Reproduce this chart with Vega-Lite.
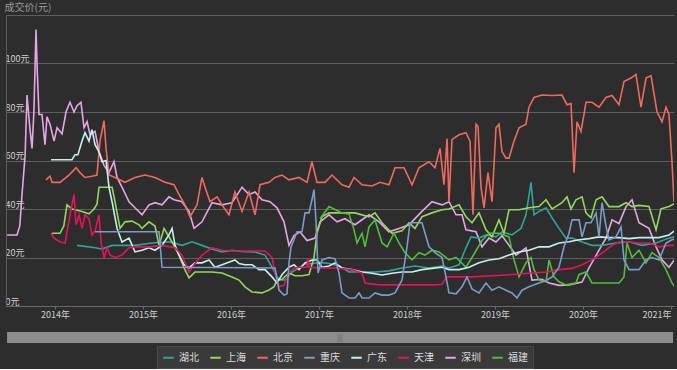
{
"$schema":"https://vega.github.io/schema/vega-lite/v6.json",
"background":"#2d2d2d",
"padding":{"left":4,"top":2,"right":5,"bottom":0},
"config":{"font":"Noto Sans CJK SC","view":{"stroke":null},"concat":{"spacing":13}},
"datasets":{
"lines":[
{"s":"深圳","t":2013.455,"v":29.3},{"s":"深圳","t":2013.568,"v":29.3},{"s":"深圳","t":2013.6,"v":33},{"s":"深圳","t":2013.625,"v":46},{"s":"深圳","t":2013.66,"v":62},{"s":"深圳","t":2013.682,"v":87},{"s":"深圳","t":2013.71,"v":75},{"s":"深圳","t":2013.739,"v":65},{"s":"深圳","t":2013.76,"v":80},{"s":"深圳","t":2013.784,"v":114},{"s":"深圳","t":2013.8,"v":95},{"s":"深圳","t":2013.818,"v":79},{"s":"深圳","t":2013.852,"v":79},{"s":"深圳","t":2013.886,"v":66.5},{"s":"深圳","t":2013.909,"v":78},{"s":"深圳","t":2013.943,"v":75},{"s":"深圳","t":2013.989,"v":68},{"s":"深圳","t":2014.023,"v":73.5},{"s":"深圳","t":2014.08,"v":71},{"s":"深圳","t":2014.125,"v":80},{"s":"深圳","t":2014.17,"v":84},{"s":"深圳","t":2014.216,"v":80},{"s":"深圳","t":2014.25,"v":82.6},{"s":"深圳","t":2014.295,"v":84},{"s":"深圳","t":2014.33,"v":73.5},{"s":"深圳","t":2014.364,"v":76},{"s":"深圳","t":2014.398,"v":70.6},{"s":"深圳","t":2014.455,"v":72},{"s":"深圳","t":2014.5,"v":63.6},{"s":"深圳","t":2014.557,"v":58},{"s":"深圳","t":2014.614,"v":55},{"s":"深圳","t":2014.67,"v":59.5},{"s":"深圳","t":2014.705,"v":53},{"s":"深圳","t":2014.761,"v":49},{"s":"深圳","t":2014.841,"v":43},{"s":"深圳","t":2014.909,"v":40.5},{"s":"深圳","t":2014.989,"v":37.6},{"s":"深圳","t":2015.068,"v":41.7},{"s":"深圳","t":2015.136,"v":42.6},{"s":"深圳","t":2015.216,"v":41.7},{"s":"深圳","t":2015.295,"v":45},{"s":"深圳","t":2015.352,"v":43.8},{"s":"深圳","t":2015.443,"v":43},{"s":"深圳","t":2015.523,"v":39},{"s":"深圳","t":2015.58,"v":32},{"s":"深圳","t":2015.67,"v":34.7},{"s":"深圳","t":2015.784,"v":42.6},{"s":"深圳","t":2015.898,"v":41.7},{"s":"深圳","t":2016.011,"v":42.6},{"s":"深圳","t":2016.125,"v":49},{"s":"深圳","t":2016.205,"v":46},{"s":"深圳","t":2016.273,"v":47},{"s":"深圳","t":2016.352,"v":43.8},{"s":"深圳","t":2016.443,"v":43},{"s":"深圳","t":2016.523,"v":40.5},{"s":"深圳","t":2016.602,"v":34.7},{"s":"深圳","t":2016.659,"v":25},{"s":"深圳","t":2016.716,"v":29},{"s":"深圳","t":2016.784,"v":30.6},{"s":"深圳","t":2016.864,"v":27},{"s":"深圳","t":2016.955,"v":28},{"s":"深圳","t":2017.011,"v":34.7},{"s":"深圳","t":2017.114,"v":37.6},{"s":"深圳","t":2017.205,"v":34.7},{"s":"深圳","t":2017.295,"v":36},{"s":"深圳","t":2017.409,"v":33.5},{"s":"深圳","t":2017.568,"v":37.6},{"s":"深圳","t":2017.682,"v":34.7},{"s":"深圳","t":2017.795,"v":30.6},{"s":"深圳","t":2017.909,"v":32},{"s":"深圳","t":2018.023,"v":33.5},{"s":"深圳","t":2018.17,"v":39},{"s":"深圳","t":2018.284,"v":43},{"s":"深圳","t":2018.398,"v":41.7},{"s":"深圳","t":2018.477,"v":43},{"s":"深圳","t":2018.557,"v":37.6},{"s":"深圳","t":2018.625,"v":37.6},{"s":"深圳","t":2018.67,"v":31.4},{"s":"深圳","t":2018.784,"v":30.6},{"s":"深圳","t":2018.852,"v":24.4},{"s":"深圳","t":2018.932,"v":28},{"s":"深圳","t":2019.011,"v":26.4},{"s":"深圳","t":2019.08,"v":29},{"s":"深圳","t":2019.159,"v":25},{"s":"深圳","t":2019.239,"v":21},{"s":"深圳","t":2019.352,"v":24},{"s":"深圳","t":2019.42,"v":10.7},{"s":"深圳","t":2019.534,"v":11},{"s":"深圳","t":2019.614,"v":9.5},{"s":"深圳","t":2019.727,"v":8.5},{"s":"深圳","t":2019.841,"v":8.7},{"s":"深圳","t":2019.989,"v":9.9},{"s":"深圳","t":2020.068,"v":15.7},{"s":"深圳","t":2020.182,"v":23},{"s":"深圳","t":2020.261,"v":28},{"s":"深圳","t":2020.33,"v":35.5},{"s":"深圳","t":2020.409,"v":34},{"s":"深圳","t":2020.489,"v":41},{"s":"深圳","t":2020.557,"v":43.8},{"s":"深圳","t":2020.636,"v":34.3},{"s":"深圳","t":2020.75,"v":32},{"s":"深圳","t":2020.83,"v":24.4},{"s":"深圳","t":2020.898,"v":19},{"s":"深圳","t":2020.977,"v":16},{"s":"深圳","t":2021.057,"v":20},
{"s":"北京","t":2013.898,"v":52},{"s":"北京","t":2013.943,"v":53.5},{"s":"北京","t":2013.966,"v":51},{"s":"北京","t":2014.057,"v":51},{"s":"北京","t":2014.159,"v":54},{"s":"北京","t":2014.239,"v":57},{"s":"北京","t":2014.284,"v":55},{"s":"北京","t":2014.341,"v":53},{"s":"北京","t":2014.42,"v":53.5},{"s":"北京","t":2014.477,"v":54},{"s":"北京","t":2014.511,"v":68},{"s":"北京","t":2014.557,"v":76.4},{"s":"北京","t":2014.58,"v":65},{"s":"北京","t":2014.614,"v":54},{"s":"北京","t":2014.682,"v":53},{"s":"北京","t":2014.795,"v":51},{"s":"北京","t":2014.909,"v":53},{"s":"北京","t":2015.023,"v":54},{"s":"北京","t":2015.136,"v":53},{"s":"北京","t":2015.25,"v":51},{"s":"北京","t":2015.352,"v":50},{"s":"北京","t":2015.409,"v":46},{"s":"北京","t":2015.477,"v":41.7},{"s":"北京","t":2015.534,"v":36.8},{"s":"北京","t":2015.614,"v":41.7},{"s":"北京","t":2015.67,"v":53},{"s":"北京","t":2015.705,"v":49},{"s":"北京","t":2015.761,"v":43},{"s":"北京","t":2015.841,"v":45},{"s":"北京","t":2015.92,"v":40.5},{"s":"北京","t":2015.977,"v":37.6},{"s":"北京","t":2016.045,"v":47},{"s":"北京","t":2016.125,"v":39},{"s":"北京","t":2016.205,"v":47},{"s":"北京","t":2016.273,"v":37.6},{"s":"北京","t":2016.33,"v":50},{"s":"北京","t":2016.432,"v":51},{"s":"北京","t":2016.5,"v":53},{"s":"北京","t":2016.58,"v":54},{"s":"北京","t":2016.659,"v":52},{"s":"北京","t":2016.773,"v":53},{"s":"北京","t":2016.864,"v":51},{"s":"北京","t":2016.92,"v":59.5},{"s":"北京","t":2016.977,"v":51},{"s":"北京","t":2017.068,"v":51},{"s":"北京","t":2017.148,"v":54},{"s":"北京","t":2017.261,"v":50},{"s":"北京","t":2017.341,"v":49},{"s":"北京","t":2017.398,"v":53},{"s":"北京","t":2017.489,"v":50},{"s":"北京","t":2017.602,"v":49.5},{"s":"北京","t":2017.693,"v":51},{"s":"北京","t":2017.795,"v":50},{"s":"北京","t":2017.864,"v":57},{"s":"北京","t":2017.966,"v":57},{"s":"北京","t":2018.057,"v":50},{"s":"北京","t":2018.136,"v":57},{"s":"北京","t":2018.25,"v":59.5},{"s":"北京","t":2018.318,"v":57},{"s":"北京","t":2018.375,"v":65},{"s":"北京","t":2018.42,"v":50},{"s":"北京","t":2018.455,"v":69},{"s":"北京","t":2018.477,"v":43},{"s":"北京","t":2018.511,"v":68.6},{"s":"北京","t":2018.591,"v":70.6},{"s":"北京","t":2018.67,"v":71.5},{"s":"北京","t":2018.716,"v":68},{"s":"北京","t":2018.75,"v":37.6},{"s":"北京","t":2018.784,"v":75},{"s":"北京","t":2018.807,"v":74},{"s":"北京","t":2018.841,"v":49},{"s":"北京","t":2018.875,"v":40.5},{"s":"北京","t":2018.92,"v":55},{"s":"北京","t":2018.966,"v":43},{"s":"北京","t":2019.011,"v":73.5},{"s":"北京","t":2019.045,"v":75},{"s":"北京","t":2019.08,"v":63.6},{"s":"北京","t":2019.125,"v":61},{"s":"北京","t":2019.159,"v":61},{"s":"北京","t":2019.216,"v":68},{"s":"北京","t":2019.273,"v":73.5},{"s":"北京","t":2019.352,"v":75},{"s":"北京","t":2019.386,"v":82},{"s":"北京","t":2019.443,"v":86},{"s":"北京","t":2019.534,"v":87},{"s":"北京","t":2019.648,"v":86.8},{"s":"北京","t":2019.761,"v":87},{"s":"北京","t":2019.818,"v":83},{"s":"北京","t":2019.864,"v":83.5},{"s":"北京","t":2019.898,"v":55},{"s":"北京","t":2019.932,"v":76},{"s":"北京","t":2019.977,"v":72},{"s":"北京","t":2020.011,"v":79},{"s":"北京","t":2020.034,"v":84},{"s":"北京","t":2020.102,"v":84},{"s":"北京","t":2020.182,"v":82},{"s":"北京","t":2020.261,"v":86},{"s":"北京","t":2020.33,"v":86.8},{"s":"北京","t":2020.409,"v":83},{"s":"北京","t":2020.466,"v":92.6},{"s":"北京","t":2020.545,"v":94},{"s":"北京","t":2020.602,"v":95.5},{"s":"北京","t":2020.659,"v":82},{"s":"北京","t":2020.716,"v":94},{"s":"北京","t":2020.773,"v":95},{"s":"北京","t":2020.841,"v":80},{"s":"北京","t":2020.898,"v":76},{"s":"北京","t":2020.943,"v":82},{"s":"北京","t":2020.977,"v":79},{"s":"北京","t":2021.011,"v":59.5},{"s":"北京","t":2021.034,"v":43},
{"s":"湖北","t":2014.25,"v":25},{"s":"湖北","t":2014.341,"v":24.6},{"s":"湖北","t":2014.455,"v":24},{"s":"湖北","t":2014.534,"v":23.5},{"s":"湖北","t":2014.648,"v":25},{"s":"湖北","t":2014.761,"v":25},{"s":"湖北","t":2014.909,"v":25},{"s":"湖北","t":2015.102,"v":26},{"s":"湖北","t":2015.295,"v":26.5},{"s":"湖北","t":2015.443,"v":25},{"s":"湖北","t":2015.557,"v":26.5},{"s":"湖北","t":2015.67,"v":25},{"s":"湖北","t":2015.784,"v":23.5},{"s":"湖北","t":2015.898,"v":22.3},{"s":"湖北","t":2016.011,"v":23},{"s":"湖北","t":2016.125,"v":22.5},{"s":"湖北","t":2016.273,"v":22.3},{"s":"湖北","t":2016.386,"v":21},{"s":"湖北","t":2016.466,"v":16},{"s":"湖北","t":2016.523,"v":12},{"s":"湖北","t":2016.557,"v":10.7},{"s":"湖北","t":2016.614,"v":10.7},{"s":"湖北","t":2016.693,"v":14},{"s":"湖北","t":2016.773,"v":15.7},{"s":"湖北","t":2016.841,"v":17.4},{"s":"湖北","t":2016.92,"v":17.4},{"s":"湖北","t":2017.0,"v":18},{"s":"湖北","t":2017.114,"v":17.5},{"s":"湖北","t":2017.227,"v":16.5},{"s":"湖北","t":2017.341,"v":14},{"s":"湖北","t":2017.489,"v":14},{"s":"湖北","t":2017.636,"v":14},{"s":"湖北","t":2017.795,"v":14.5},{"s":"湖北","t":2017.943,"v":15.7},{"s":"湖北","t":2018.091,"v":16.5},{"s":"湖北","t":2018.25,"v":15.7},{"s":"湖北","t":2018.398,"v":16.5},{"s":"湖北","t":2018.477,"v":15.7},{"s":"湖北","t":2018.591,"v":17},{"s":"湖北","t":2018.67,"v":24},{"s":"湖北","t":2018.727,"v":28.5},{"s":"湖北","t":2018.818,"v":28},{"s":"湖北","t":2018.898,"v":29.3},{"s":"湖北","t":2019.011,"v":28.5},{"s":"湖北","t":2019.08,"v":30.6},{"s":"湖北","t":2019.193,"v":29.3},{"s":"湖北","t":2019.295,"v":32},{"s":"湖北","t":2019.352,"v":37.6},{"s":"湖北","t":2019.409,"v":51},{"s":"湖北","t":2019.443,"v":37.6},{"s":"湖北","t":2019.5,"v":39},{"s":"湖北","t":2019.58,"v":40.5},{"s":"湖北","t":2019.648,"v":36.4},{"s":"湖北","t":2019.727,"v":32},{"s":"湖北","t":2019.807,"v":28},{"s":"湖北","t":2019.875,"v":28},{"s":"湖北","t":2019.989,"v":26.4},{"s":"湖北","t":2020.102,"v":25},{"s":"湖北","t":2020.216,"v":25},{"s":"湖北","t":2020.375,"v":26},{"s":"湖北","t":2020.523,"v":26.5},{"s":"湖北","t":2020.67,"v":25},{"s":"湖北","t":2020.83,"v":26},{"s":"湖北","t":2020.977,"v":28},{"s":"湖北","t":2021.034,"v":28.5},
{"s":"上海","t":2013.966,"v":30},{"s":"上海","t":2014.057,"v":30},{"s":"上海","t":2014.1,"v":33},{"s":"上海","t":2014.136,"v":41.7},{"s":"上海","t":2014.193,"v":40},{"s":"上海","t":2014.307,"v":39},{"s":"上海","t":2014.386,"v":38},{"s":"上海","t":2014.443,"v":40},{"s":"上海","t":2014.477,"v":42},{"s":"上海","t":2014.5,"v":49},{"s":"上海","t":2014.534,"v":49},{"s":"上海","t":2014.648,"v":49},{"s":"上海","t":2014.682,"v":43},{"s":"上海","t":2014.739,"v":32},{"s":"上海","t":2014.795,"v":34.7},{"s":"上海","t":2014.875,"v":35},{"s":"上海","t":2014.955,"v":33.5},{"s":"上海","t":2014.989,"v":32},{"s":"上海","t":2015.068,"v":34.7},{"s":"上海","t":2015.136,"v":33},{"s":"上海","t":2015.182,"v":25},{"s":"上海","t":2015.239,"v":32},{"s":"上海","t":2015.33,"v":26.4},{"s":"上海","t":2015.409,"v":21},{"s":"上海","t":2015.466,"v":15.7},{"s":"上海","t":2015.523,"v":11.6},{"s":"上海","t":2015.591,"v":14},{"s":"上海","t":2015.67,"v":14},{"s":"上海","t":2015.784,"v":14},{"s":"上海","t":2015.898,"v":13.6},{"s":"上海","t":2016.011,"v":12},{"s":"上海","t":2016.091,"v":10.7},{"s":"上海","t":2016.159,"v":7.9},{"s":"上海","t":2016.239,"v":5.8},{"s":"上海","t":2016.352,"v":5.4},{"s":"上海","t":2016.432,"v":6.6},{"s":"上海","t":2016.489,"v":8},{"s":"上海","t":2016.523,"v":10.7},{"s":"上海","t":2016.58,"v":11},{"s":"上海","t":2016.659,"v":13.6},{"s":"上海","t":2016.727,"v":12.5},{"s":"上海","t":2016.807,"v":12.5},{"s":"上海","t":2016.886,"v":13},{"s":"上海","t":2016.943,"v":20},{"s":"上海","t":2016.977,"v":30},{"s":"上海","t":2017.034,"v":36.8},{"s":"上海","t":2017.114,"v":38.4},{"s":"上海","t":2017.261,"v":38.4},{"s":"上海","t":2017.409,"v":38.4},{"s":"上海","t":2017.568,"v":36.8},{"s":"上海","t":2017.636,"v":38.4},{"s":"上海","t":2017.716,"v":34.3},{"s":"上海","t":2017.83,"v":30},{"s":"上海","t":2017.943,"v":31},{"s":"上海","t":2018.023,"v":34.3},{"s":"上海","t":2018.091,"v":32},{"s":"上海","t":2018.17,"v":36.8},{"s":"上海","t":2018.284,"v":38.4},{"s":"上海","t":2018.398,"v":39.7},{"s":"上海","t":2018.477,"v":40},{"s":"上海","t":2018.591,"v":41.7},{"s":"上海","t":2018.67,"v":36.8},{"s":"上海","t":2018.739,"v":34.3},{"s":"上海","t":2018.818,"v":38.4},{"s":"上海","t":2018.898,"v":31.4},{"s":"上海","t":2018.966,"v":28.5},{"s":"上海","t":2019.045,"v":35.5},{"s":"上海","t":2019.102,"v":30},{"s":"上海","t":2019.159,"v":39.7},{"s":"上海","t":2019.273,"v":39.7},{"s":"上海","t":2019.386,"v":40.5},{"s":"上海","t":2019.5,"v":41},{"s":"上海","t":2019.58,"v":43.8},{"s":"上海","t":2019.648,"v":40},{"s":"上海","t":2019.761,"v":42.6},{"s":"上海","t":2019.818,"v":45},{"s":"上海","t":2019.864,"v":40},{"s":"上海","t":2019.92,"v":43.8},{"s":"上海","t":2019.989,"v":45},{"s":"上海","t":2020.034,"v":38.4},{"s":"上海","t":2020.091,"v":36.4},{"s":"上海","t":2020.148,"v":43.8},{"s":"上海","t":2020.216,"v":45},{"s":"上海","t":2020.295,"v":41},{"s":"上海","t":2020.409,"v":41},{"s":"上海","t":2020.489,"v":42.6},{"s":"上海","t":2020.557,"v":41},{"s":"上海","t":2020.636,"v":41.5},{"s":"上海","t":2020.75,"v":41},{"s":"上海","t":2020.83,"v":31.4},{"s":"上海","t":2020.886,"v":40},{"s":"上海","t":2020.977,"v":41},{"s":"上海","t":2021.057,"v":42.6},
{"s":"福建","t":2017.011,"v":36},{"s":"福建","t":2017.114,"v":41},{"s":"福建","t":2017.261,"v":38.4},{"s":"福建","t":2017.341,"v":38},{"s":"福建","t":2017.398,"v":31.4},{"s":"福建","t":2017.432,"v":26},{"s":"福建","t":2017.489,"v":30},{"s":"福建","t":2017.523,"v":24.4},{"s":"福建","t":2017.568,"v":32.6},{"s":"福建","t":2017.636,"v":35.5},{"s":"福建","t":2017.716,"v":26},{"s":"福建","t":2017.773,"v":24.4},{"s":"福建","t":2017.852,"v":30},{"s":"福建","t":2017.909,"v":26},{"s":"福建","t":2017.977,"v":22},{"s":"福建","t":2018.057,"v":19},{"s":"福建","t":2018.136,"v":22},{"s":"福建","t":2018.205,"v":21},{"s":"福建","t":2018.284,"v":23},{"s":"福建","t":2018.364,"v":22.3},{"s":"福建","t":2018.477,"v":19},{"s":"福建","t":2018.557,"v":20},{"s":"福建","t":2018.67,"v":16},{"s":"福建","t":2018.739,"v":20},{"s":"福建","t":2018.852,"v":27},{"s":"福建","t":2018.932,"v":30},{"s":"福建","t":2019.045,"v":30},{"s":"福建","t":2019.159,"v":28.5},{"s":"福建","t":2019.216,"v":19},{"s":"福建","t":2019.273,"v":12},{"s":"福建","t":2019.352,"v":17.8},{"s":"福建","t":2019.409,"v":20},{"s":"福建","t":2019.443,"v":15},{"s":"福建","t":2019.5,"v":10.7},{"s":"福建","t":2019.58,"v":10},{"s":"福建","t":2019.614,"v":19},{"s":"福建","t":2019.67,"v":12},{"s":"福建","t":2019.727,"v":10},{"s":"福建","t":2019.807,"v":8.7},{"s":"福建","t":2019.92,"v":9.5},{"s":"福建","t":2019.955,"v":13},{"s":"福建","t":2020.034,"v":14},{"s":"福建","t":2020.102,"v":9.5},{"s":"福建","t":2020.261,"v":9.5},{"s":"福建","t":2020.409,"v":9.5},{"s":"福建","t":2020.466,"v":12},{"s":"福建","t":2020.5,"v":26},{"s":"福建","t":2020.557,"v":20},{"s":"福建","t":2020.636,"v":23},{"s":"福建","t":2020.716,"v":17.8},{"s":"福建","t":2020.784,"v":22},{"s":"福建","t":2020.864,"v":20},{"s":"福建","t":2020.943,"v":15},{"s":"福建","t":2021.011,"v":9.5},{"s":"福建","t":2021.04,"v":8},
{"s":"广东","t":2013.955,"v":60.3},{"s":"广东","t":2014.193,"v":60.3},{"s":"广东","t":2014.227,"v":62.4},{"s":"广东","t":2014.26,"v":62.4},{"s":"广东","t":2014.307,"v":68},{"s":"广东","t":2014.341,"v":71.5},{"s":"广东","t":2014.386,"v":68},{"s":"广东","t":2014.42,"v":72.7},{"s":"广东","t":2014.455,"v":66.5},{"s":"广东","t":2014.5,"v":63.6},{"s":"广东","t":2014.534,"v":59.5},{"s":"广东","t":2014.58,"v":60},{"s":"广东","t":2014.614,"v":48.8},{"s":"广东","t":2014.648,"v":43},{"s":"广东","t":2014.705,"v":32},{"s":"广东","t":2014.761,"v":26.4},{"s":"广东","t":2014.841,"v":28},{"s":"广东","t":2014.909,"v":22.3},{"s":"广东","t":2014.989,"v":23},{"s":"广东","t":2015.068,"v":24},{"s":"广东","t":2015.136,"v":23},{"s":"广东","t":2015.216,"v":25},{"s":"广东","t":2015.295,"v":29.3},{"s":"广东","t":2015.33,"v":32},{"s":"广东","t":2015.364,"v":25},{"s":"广东","t":2015.409,"v":21},{"s":"广东","t":2015.466,"v":17},{"s":"广东","t":2015.523,"v":15.7},{"s":"广东","t":2015.591,"v":17.8},{"s":"广东","t":2015.67,"v":17.8},{"s":"广东","t":2015.75,"v":19},{"s":"广东","t":2015.818,"v":16},{"s":"广东","t":2015.898,"v":17},{"s":"广东","t":2016.045,"v":19},{"s":"广东","t":2016.091,"v":17.5},{"s":"广东","t":2016.159,"v":17},{"s":"广东","t":2016.239,"v":17},{"s":"广东","t":2016.318,"v":15},{"s":"广东","t":2016.386,"v":15},{"s":"广东","t":2016.466,"v":12},{"s":"广东","t":2016.523,"v":9.5},{"s":"广东","t":2016.58,"v":13},{"s":"广东","t":2016.659,"v":16},{"s":"广东","t":2016.716,"v":17},{"s":"广东","t":2016.773,"v":15},{"s":"广东","t":2016.841,"v":17.8},{"s":"广东","t":2016.92,"v":19},{"s":"广东","t":2016.977,"v":19},{"s":"广东","t":2017.034,"v":16},{"s":"广东","t":2017.114,"v":16.5},{"s":"广东","t":2017.182,"v":17.8},{"s":"广东","t":2017.261,"v":15.7},{"s":"广东","t":2017.375,"v":15},{"s":"广东","t":2017.489,"v":14},{"s":"广东","t":2017.602,"v":13.5},{"s":"广东","t":2017.716,"v":12.8},{"s":"广东","t":2017.83,"v":13.5},{"s":"广东","t":2017.943,"v":14},{"s":"广东","t":2018.057,"v":14},{"s":"广东","t":2018.17,"v":15},{"s":"广东","t":2018.284,"v":15.5},{"s":"广东","t":2018.398,"v":16},{"s":"广东","t":2018.477,"v":15},{"s":"广东","t":2018.591,"v":15},{"s":"广东","t":2018.705,"v":16},{"s":"广东","t":2018.818,"v":17.8},{"s":"广东","t":2018.932,"v":19},{"s":"广东","t":2019.045,"v":19.5},{"s":"广东","t":2019.159,"v":21},{"s":"广东","t":2019.273,"v":22.3},{"s":"广东","t":2019.386,"v":23},{"s":"广东","t":2019.5,"v":24.4},{"s":"广东","t":2019.614,"v":24.4},{"s":"广东","t":2019.727,"v":26},{"s":"广东","t":2019.841,"v":26.5},{"s":"广东","t":2019.955,"v":27.3},{"s":"广东","t":2020.068,"v":27.8},{"s":"广东","t":2020.182,"v":28.5},{"s":"广东","t":2020.295,"v":28.2},{"s":"广东","t":2020.409,"v":28.2},{"s":"广东","t":2020.523,"v":27.8},{"s":"广东","t":2020.636,"v":28.2},{"s":"广东","t":2020.75,"v":28.2},{"s":"广东","t":2020.864,"v":28.2},{"s":"广东","t":2020.977,"v":29.3},{"s":"广东","t":2021.057,"v":31.4},
{"s":"天津","t":2013.955,"v":30},{"s":"天津","t":2013.989,"v":28},{"s":"天津","t":2014.057,"v":26.4},{"s":"天津","t":2014.114,"v":26},{"s":"天津","t":2014.17,"v":37.6},{"s":"天津","t":2014.216,"v":46},{"s":"天津","t":2014.239,"v":33.5},{"s":"天津","t":2014.273,"v":37.6},{"s":"天津","t":2014.307,"v":32},{"s":"天津","t":2014.341,"v":37.6},{"s":"天津","t":2014.386,"v":36},{"s":"天津","t":2014.42,"v":29.3},{"s":"天津","t":2014.455,"v":31},{"s":"天津","t":2014.5,"v":37.6},{"s":"天津","t":2014.523,"v":26.4},{"s":"天津","t":2014.557,"v":19.8},{"s":"天津","t":2014.591,"v":24},{"s":"天津","t":2014.625,"v":21},{"s":"天津","t":2014.682,"v":20},{"s":"天津","t":2014.761,"v":21},{"s":"天津","t":2014.841,"v":24},{"s":"天津","t":2014.909,"v":24.4},{"s":"天津","t":2015.068,"v":24.4},{"s":"天津","t":2015.216,"v":25},{"s":"天津","t":2015.364,"v":24},{"s":"天津","t":2015.443,"v":21},{"s":"天津","t":2015.523,"v":14},{"s":"天津","t":2015.58,"v":17},{"s":"天津","t":2015.67,"v":21},{"s":"天津","t":2015.784,"v":24},{"s":"天津","t":2015.898,"v":23},{"s":"天津","t":2016.045,"v":22.7},{"s":"天津","t":2016.239,"v":22.7},{"s":"天津","t":2016.386,"v":22.7},{"s":"天津","t":2016.466,"v":20},{"s":"天津","t":2016.5,"v":13.6},{"s":"天津","t":2016.545,"v":7.9},{"s":"天津","t":2016.602,"v":8.5},{"s":"天津","t":2016.659,"v":13.6},{"s":"天津","t":2016.716,"v":15.7},{"s":"天津","t":2016.807,"v":16},{"s":"天津","t":2016.864,"v":16},{"s":"天津","t":2016.875,"v":19.8},{"s":"天津","t":2016.886,"v":16},{"s":"天津","t":2016.989,"v":15.7},{"s":"天津","t":2017.182,"v":15.7},{"s":"天津","t":2017.375,"v":15},{"s":"天津","t":2017.489,"v":13.6},{"s":"天津","t":2017.523,"v":9.5},{"s":"天津","t":2017.682,"v":8.7},{"s":"天津","t":2017.864,"v":8.7},{"s":"天津","t":2018.023,"v":8.7},{"s":"天津","t":2018.17,"v":8.7},{"s":"天津","t":2018.318,"v":8.7},{"s":"天津","t":2018.398,"v":9},{"s":"天津","t":2018.45,"v":12},{"s":"天津","t":2018.739,"v":12},{"s":"天津","t":2019.125,"v":12.8},{"s":"天津","t":2019.42,"v":13.6},{"s":"天津","t":2019.58,"v":14},{"s":"天津","t":2019.727,"v":15},{"s":"天津","t":2019.875,"v":15.5},{"s":"天津","t":2019.989,"v":17},{"s":"天津","t":2020.102,"v":19},{"s":"天津","t":2020.182,"v":21},{"s":"天津","t":2020.261,"v":23},{"s":"天津","t":2020.33,"v":25},{"s":"天津","t":2020.409,"v":26.4},{"s":"天津","t":2020.523,"v":26.4},{"s":"天津","t":2020.636,"v":26},{"s":"天津","t":2020.75,"v":26},{"s":"天津","t":2020.864,"v":24.4},{"s":"天津","t":2020.977,"v":25},{"s":"天津","t":2021.04,"v":25},
{"s":"重庆","t":2014.455,"v":30.6},{"s":"重庆","t":2015.182,"v":30.6},{"s":"重庆","t":2015.216,"v":16},{"s":"重庆","t":2016.5,"v":15.7},{"s":"重庆","t":2016.545,"v":6.6},{"s":"重庆","t":2016.602,"v":4.5},{"s":"重庆","t":2016.636,"v":5},{"s":"重庆","t":2016.659,"v":17.8},{"s":"重庆","t":2016.682,"v":24.4},{"s":"重庆","t":2016.716,"v":27.3},{"s":"重庆","t":2016.75,"v":30.6},{"s":"重庆","t":2016.807,"v":30.6},{"s":"重庆","t":2016.841,"v":38.4},{"s":"重庆","t":2016.886,"v":38.4},{"s":"重庆","t":2016.92,"v":43.8},{"s":"重庆","t":2016.943,"v":48},{"s":"重庆","t":2016.966,"v":35},{"s":"重庆","t":2016.989,"v":13.6},{"s":"重庆","t":2017.034,"v":19},{"s":"重庆","t":2017.114,"v":20},{"s":"重庆","t":2017.182,"v":19.5},{"s":"重庆","t":2017.227,"v":13.6},{"s":"重庆","t":2017.261,"v":5.4},{"s":"重庆","t":2017.341,"v":3.3},{"s":"重庆","t":2017.409,"v":3.3},{"s":"重庆","t":2017.455,"v":5.4},{"s":"重庆","t":2017.489,"v":3.3},{"s":"重庆","t":2017.568,"v":3.3},{"s":"重庆","t":2017.636,"v":5.4},{"s":"重庆","t":2017.716,"v":4.5},{"s":"重庆","t":2017.795,"v":4.5},{"s":"重庆","t":2017.864,"v":5.4},{"s":"重庆","t":2017.943,"v":10.7},{"s":"重庆","t":2018.0,"v":24.4},{"s":"重庆","t":2018.034,"v":34.3},{"s":"重庆","t":2018.17,"v":34.3},{"s":"重庆","t":2018.205,"v":30},{"s":"重庆","t":2018.25,"v":24.4},{"s":"重庆","t":2018.318,"v":22},{"s":"重庆","t":2018.398,"v":20},{"s":"重庆","t":2018.443,"v":12},{"s":"重庆","t":2018.477,"v":5.4},{"s":"重庆","t":2018.557,"v":5},{"s":"重庆","t":2018.625,"v":7.9},{"s":"重庆","t":2018.682,"v":12},{"s":"重庆","t":2018.739,"v":7},{"s":"重庆","t":2018.818,"v":5.4},{"s":"重庆","t":2018.898,"v":9.5},{"s":"重庆","t":2018.966,"v":6.5},{"s":"重庆","t":2019.045,"v":7.9},{"s":"重庆","t":2019.125,"v":6.5},{"s":"重庆","t":2019.193,"v":5.4},{"s":"重庆","t":2019.25,"v":3.3},{"s":"重庆","t":2019.307,"v":6.5},{"s":"重庆","t":2019.386,"v":7.9},{"s":"重庆","t":2019.5,"v":9.5},{"s":"重庆","t":2019.58,"v":10.5},{"s":"重庆","t":2019.648,"v":12},{"s":"重庆","t":2019.727,"v":16},{"s":"重庆","t":2019.784,"v":24.4},{"s":"重庆","t":2019.841,"v":30},{"s":"重庆","t":2019.875,"v":35.5},{"s":"重庆","t":2019.955,"v":35.5},{"s":"重庆","t":2019.989,"v":28.5},{"s":"重庆","t":2020.034,"v":34.3},{"s":"重庆","t":2020.091,"v":34.3},{"s":"重庆","t":2020.148,"v":38.4},{"s":"重庆","t":2020.182,"v":28.5},{"s":"重庆","t":2020.216,"v":42.6},{"s":"重庆","t":2020.261,"v":33},{"s":"重庆","t":2020.295,"v":27.3},{"s":"重庆","t":2020.375,"v":28.5},{"s":"重庆","t":2020.432,"v":32.6},{"s":"重庆","t":2020.466,"v":19},{"s":"重庆","t":2020.523,"v":15},{"s":"重庆","t":2020.636,"v":15},{"s":"重庆","t":2020.716,"v":19},{"s":"重庆","t":2020.784,"v":20},{"s":"重庆","t":2020.864,"v":19},{"s":"重庆","t":2020.943,"v":26},{"s":"重庆","t":2021.011,"v":27.3},{"s":"重庆","t":2021.068,"v":28}
],
"slider":[{"a":2013.455,"b":2021.023,"m":2017.239,"grip":"|||"}]
},
"vconcat":[
{
"width":668,"height":291,
"data":{"name":"lines"},
"mark":{"type":"line","strokeWidth":1.6,"clip":true},
"encoding":{
"x":{"field":"t","type":"quantitative","scale":{"domain":[2013.443,2021.034],"nice":false,"zero":false},
"axis":{"title":null,"values":[2014,2015,2016,2017,2018,2019,2020,2021],"labelExpr":"datum.value + '年'","grid":false,"domainColor":"#6a6a6a","ticks":true,"tickColor":"#6a6a6a","tickSize":3,"labelColor":"#cfcfcf","labelFontSize":9,"labelPadding":1,"labelFlush":8}},
"y":{"field":"v","type":"quantitative","scale":{"domain":[0,120],"nice":false},
"axis":{"title":"成交价(元)","titleAngle":0,"titleAlign":"left","titleBaseline":"top","titleX":-2,"titleY":-13,"titleColor":"#9a9a9a","titleFontSize":10,"titleFontWeight":"normal","values":[0,20,40,60,80,100,120],"labelExpr":"datum.value == 120 ? '' : datum.value + '元'","labelAlign":"left","labelBaseline":"bottom","labelPadding":1,"ticks":false,"tickSize":0,"labelColor":"#cfcfcf","labelFontSize":9,"grid":true,"gridColor":"#5e5e5e","gridWidth":1,"domainColor":"#5e5e5e"}},
"color":{"field":"s","type":"nominal","scale":{"domain":["湖北","上海","北京","重庆","广东","天津","深圳","福建"],"range":["#34a297","#92d85e","#ef6a5e","#7b9cc8","#c4f0ee","#e8115e","#e6a6e6","#4fbf3a"]},
"legend":{"title":null,"orient":"none","legendX":151,"legendY":331,"direction":"horizontal","columns":8,"symbolType":"stroke","symbolStrokeWidth":2,"symbolSize":110,"labelColor":"#dddddd","labelFontSize":10,"columnPadding":7,"labelOffset":4,"padding":5,"fillColor":"#3a3a3a","strokeColor":"#484848"}}
}
},
{
"width":668,"height":11,
"data":{"name":"slider"},
"layer":[
{"mark":{"type":"rect","color":"#8d8d8d"},
"encoding":{"x":{"field":"a","type":"quantitative","scale":{"domain":[2013.443,2021.034],"nice":false,"zero":false},"axis":null},"x2":{"field":"b"}}},
{"mark":{"type":"text","color":"#555555","fontSize":7,"baseline":"middle"},
"encoding":{"x":{"field":"m","type":"quantitative","axis":null},"text":{"field":"grip"}}}
]
}
]
}
